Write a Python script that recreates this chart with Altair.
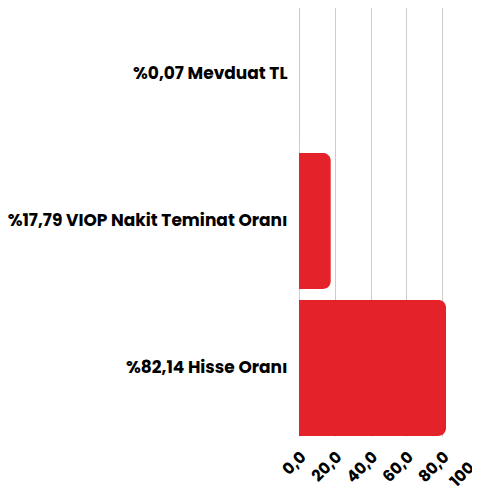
import altair as alt
import pandas as pd

categories = ["%0,07 Mevduat TL", "%17,79 VIOP Nakit Teminat Oranı", "%82,14 Hisse Oranı"]
values = [0.07, 17.79, 82.14]
ticks = [0, 20, 40, 60, 80, 100]

df = pd.DataFrame({"cat": categories, "val": values})

chart = alt.Chart(df).mark_bar(color="#E4222A", cornerRadiusEnd=8).encode(
    y=alt.Y("cat:N", sort=categories, title=None,
            scale=alt.Scale(paddingInner=0.073, paddingOuter=0),
            axis=alt.Axis(domain=False, ticks=False, labelPadding=12,
                          labelFont="Poppins, Inter, sans-serif", labelFontWeight="bold",
                          labelFontSize=17, labelColor="#000", labelLimit=400)),
    x=alt.X("val:Q", title=None, scale=alt.Scale(domain=[0, 100], nice=False),
            axis=alt.Axis(values=ticks, domain=False, ticks=False, grid=True,
                          gridColor="#cccccc", labelAngle=-45, labelAlign="right",
                          labelBaseline="middle", labelPadding=18, labelOffset=4,
                          labelOverlap=False, labelBound=False, labelFlush=False,
                          labelFont="Poppins, Inter, sans-serif", labelFontWeight="bold",
                          labelFontSize=16, labelColor="#000",
                          labelExpr="replace(format(datum.value, '.1f'), '.', ',')"))
).properties(
    width=179, height=430,
    autosize=alt.AutoSizeParams(type="none"),
    padding={"left": 291, "top": -2, "right": -6, "bottom": 52}
).configure_view(stroke=None)

chart.save("out.html", embed_options={"renderer": "svg", "actions": False})
